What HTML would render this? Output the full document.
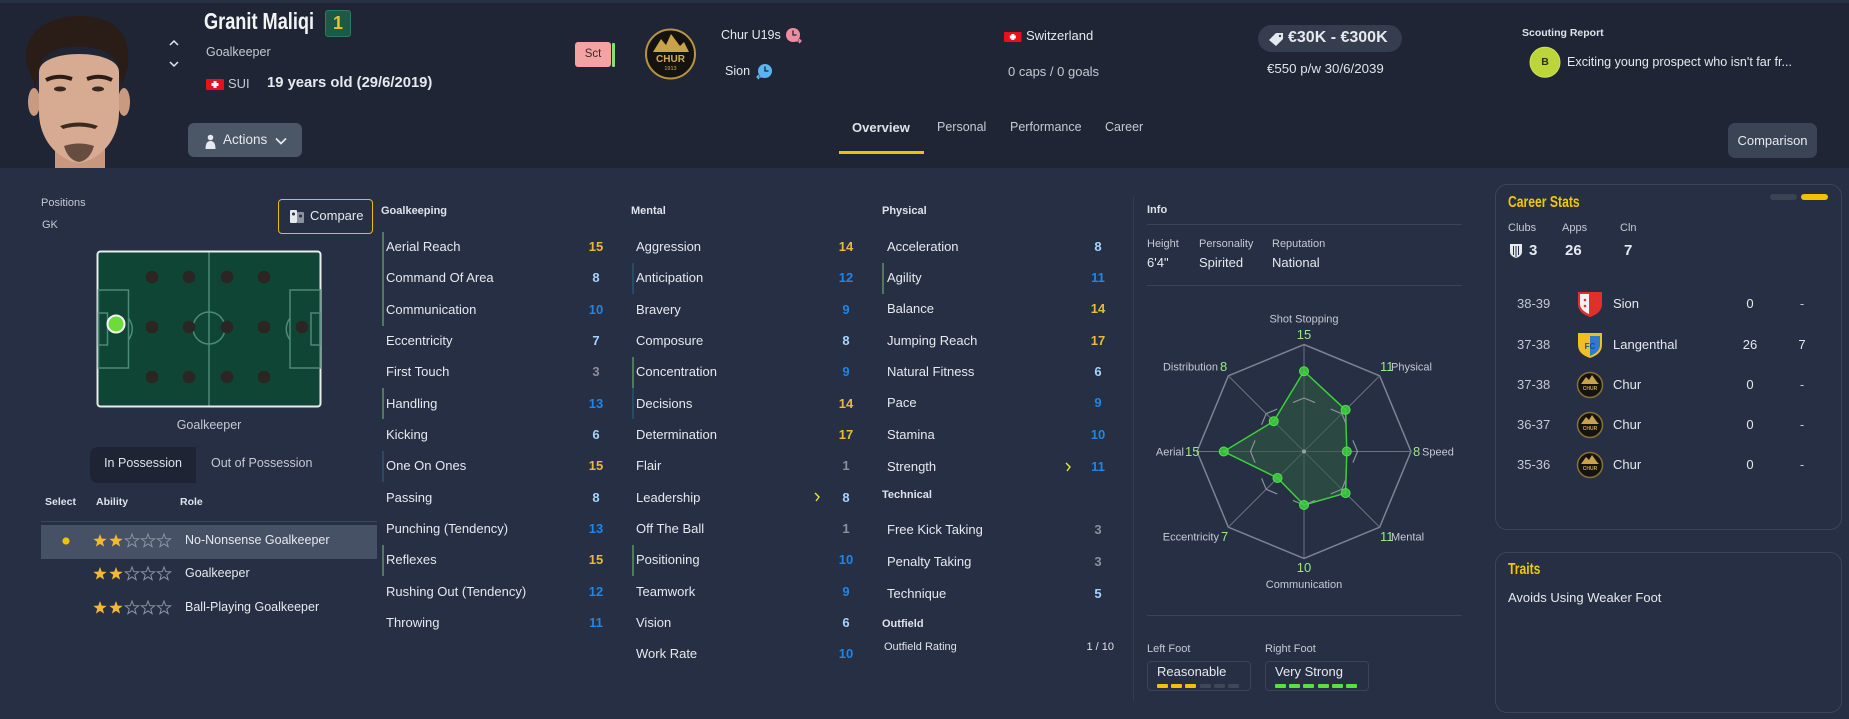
<!DOCTYPE html>
<html><head><meta charset="utf-8">
<style>
*{margin:0;padding:0;box-sizing:border-box}
html,body{width:1849px;height:719px;overflow:hidden;background:#262f43;font-family:"Liberation Sans",sans-serif;color:#e6e9ee}
.a{position:absolute}
.t{position:absolute;white-space:nowrap;line-height:1}
.s{color:#c5cad3}
.f13{font-size:13px}.f12{font-size:12px}.f11{font-size:11px}
.h{font-size:11px;font-weight:bold;color:#dfe3e9}
.v{position:absolute;width:30px;text-align:center;font-size:13px;font-weight:bold;line-height:1}
.g{color:#e9b93a}.b{color:#1d86e8}.l{color:#a5d3ff}.q{color:#8b909a}
.bar{position:absolute;width:2px;height:31px}
.bg{background:#4f7a5c}.bd{background:#284a62}
</style></head><body>

<!-- header -->
<div class="a" style="left:0;top:0;width:1849px;height:3px;background:#283044"></div>
<div class="a" style="left:0;top:3px;width:1849px;height:165px;background:#1f2534"></div>

<!-- boxes -->
<div class="a" style="left:325px;top:10px;width:26px;height:27px;background:#1d5a45;border:1px solid #2f7a5f;border-radius:3px"></div>
<div class="a" style="left:188px;top:123px;width:114px;height:34px;background:#4b5667;border-radius:6px"></div>
<div class="a" style="left:575px;top:42px;width:36px;height:25px;background:#f4a3a3;border-radius:3px"></div>
<div class="a" style="left:612px;top:43px;width:3px;height:24px;background:#86e07a;border-radius:1px"></div>
<div class="a" style="left:839px;top:151px;width:85px;height:3px;background:#f2c200"></div>
<div class="a" style="left:1258px;top:25px;width:144px;height:27px;background:#353d4e;border-radius:14px"></div>
<div class="a" style="left:1728px;top:123px;width:89px;height:35px;background:#3b4455;border-radius:7px"></div>

<div class="a" style="left:278px;top:199px;width:95px;height:35px;border:1px solid #e8c000;border-radius:4px"></div>
<div class="a" style="left:90px;top:447px;width:106px;height:36px;background:#1e2433;border-radius:8px 0 0 8px"></div>
<div class="a" style="left:41px;top:521px;width:336px;height:1px;background:#3a4558"></div>
<div class="a" style="left:41px;top:525px;width:336px;height:34px;background:#475166"></div>

<!-- attribute bars -->
<div class="bar bg" style="left:382px;top:232px;height:94px"></div>
<div class="bar bg" style="left:382px;top:388px"></div>
<div class="bar bd" style="left:382px;top:451px"></div>
<div class="bar bg" style="left:382px;top:545px"></div>
<div class="bar bd" style="left:632px;top:263px"></div>
<div class="bar bg" style="left:632px;top:357px"></div>
<div class="bar bd" style="left:632px;top:388px"></div>
<div class="bar bg" style="left:632px;top:545px"></div>
<div class="bar bg" style="left:882px;top:263px"></div>

<!-- info -->
<div class="a" style="left:1133px;top:197px;width:1px;height:504px;background:#333d50"></div>
<div class="a" style="left:1147px;top:224px;width:315px;height:1px;background:#3a4457"></div>
<div class="a" style="left:1147px;top:285px;width:315px;height:1px;background:#3a4457"></div>
<div class="a" style="left:1147px;top:615px;width:315px;height:1px;background:#3a4457"></div>
<div class="a" style="left:1147px;top:661px;width:104px;height:30px;border:1px solid #3a4457;border-radius:4px"></div>
<div class="a" style="left:1265px;top:661px;width:104px;height:30px;border:1px solid #3a4457;border-radius:4px"></div>

<!-- right panels -->
<div class="a" style="left:1495px;top:184px;width:347px;height:346px;border:1px solid #3b4558;border-radius:12px"></div>
<div class="a" style="left:1495px;top:552px;width:347px;height:161px;border:1px solid #3b4558;border-radius:12px"></div>

<svg class="a" style="left:0;top:0" width="1849" height="719" viewBox="0 0 1849 719">
<defs>
<polygon id="st" points="0,-7 1.7,-2.35 6.66,-2.16 2.76,0.9 4.11,5.66 0,2.9 -4.11,5.66 -2.76,0.9 -6.66,-2.16 -1.7,-2.35"/>
</defs>
<!-- photo -->
<ellipse cx="34" cy="102" rx="6" ry="14" fill="#c99a80"/>
<ellipse cx="124" cy="102" rx="6" ry="14" fill="#c99a80"/>
<rect x="55" y="138" width="50" height="30" fill="#c8987e"/>
<path d="M39,72 C39,48 119,48 119,72 L119,112 C119,140 100,160 79,163 C58,160 39,140 39,112 Z" fill="#d6ab92"/>
<path d="M27,66 C20,36 45,16 78,16 C112,15 132,32 128,66 L122,86 L118,64 C110,50 92,46 79,47 C64,46 46,50 40,64 L36,88 Z" fill="#2a1d17"/>
<path d="M46,80 Q58,74 72,79" stroke="#2a1d17" stroke-width="4" fill="none"/>
<path d="M87,79 Q100,74 112,80" stroke="#2a1d17" stroke-width="4" fill="none"/>
<ellipse cx="60" cy="89" rx="6" ry="2.5" fill="#3a2822"/>
<ellipse cx="98" cy="89" rx="6" ry="2.5" fill="#3a2822"/>
<path d="M60,126 Q79,119 98,126 L95,129 Q79,124 63,129 Z" fill="#3a2a20"/>
<path d="M64,146 Q79,141 94,146 Q90,160 79,162 Q68,160 64,146 Z" fill="#4a362a" opacity="0.8"/>
<!-- chevrons -->
<polyline points="170,45 174,41 178,45" stroke="#e6e9ee" stroke-width="1.5" fill="none"/>
<polyline points="170,62 174,66 178,62" stroke="#e6e9ee" stroke-width="1.5" fill="none"/>
<!-- flag SUI -->
<rect x="206" y="79" width="18" height="11" rx="1" fill="#e8101a"/>
<rect x="213.5" y="81" width="3" height="7" fill="#fff"/><rect x="211.5" y="83" width="7" height="3" fill="#fff"/>
<!-- actions icon -->
<circle cx="210.5" cy="137.5" r="2.8" fill="#e6e9ee"/>
<path d="M205.5,149 Q205.5,141 210.5,141 Q215.5,141 215.5,149 Z" fill="#e6e9ee"/>
<polyline points="276,138.5 281,143.5 286,138.5" stroke="#e6e9ee" stroke-width="1.7" fill="none"/>
<!-- Chur logo -->
<circle cx="670.5" cy="54" r="24.5" fill="#15130f" stroke="#b89440" stroke-width="2"/>
<polygon points="653,52 661,39 666,45 671,34 680,46 684,42 689,52" fill="#c9a24a"/>
<text x="670.5" y="62" font-size="10" font-weight="bold" fill="#d4ac50" text-anchor="middle" font-family="Liberation Sans">CHUR</text>
<text x="670.5" y="70" font-size="5.5" fill="#d4ac50" text-anchor="middle" font-family="Liberation Sans">1913</text>
<!-- clocks -->
<circle cx="793" cy="35" r="7" fill="#f08ca0"/><path d="M793,30.5 V35 H796.5" stroke="#1f2534" stroke-width="1.3" fill="none"/><path d="M794,41 H801 M799,39 L801,41 L799,43" stroke="#f08ca0" stroke-width="1.3" fill="none"/>
<circle cx="765" cy="71" r="7" fill="#5ab4f0"/><path d="M765,66.5 V71 H768.5" stroke="#1f2534" stroke-width="1.3" fill="none"/><path d="M764,77 H757 M759,75 L757,77 L759,79" stroke="#5ab4f0" stroke-width="1.3" fill="none"/>
<!-- flag Switzerland -->
<rect x="1004" y="32" width="17.5" height="10" rx="1" fill="#e8101a"/>
<rect x="1011.3" y="34" width="3" height="6" fill="#fff"/><rect x="1009.8" y="35.5" width="6" height="3" fill="#fff"/>
<!-- tag -->
<polygon points="1269,40 1276,33 1283,33 1283,39 1276,46" fill="#e6e9ee"/>
<circle cx="1280" cy="36" r="1.2" fill="#353d4e"/>
<!-- B circle -->
<circle cx="1545" cy="62.3" r="15" fill="#bcd63a" stroke="#cde45a" stroke-width="1"/>
<!-- compare icon -->
<rect x="290" y="210" width="7" height="13" rx="1" fill="#e6e9ee"/>
<rect x="297" y="212" width="7" height="11" rx="1" fill="#8a92a0"/>
<circle cx="293.5" cy="214" r="1.5" fill="#262f43"/><circle cx="300.5" cy="216" r="1.5" fill="#262f43"/>
<!-- pitch -->
<rect x="97.5" y="251.5" width="223" height="155" rx="3" fill="#0e4535" stroke="#e8ecef" stroke-width="2"/>
<g stroke="#4d8a78" stroke-width="1.5" fill="none">
<line x1="209" y1="252.5" x2="209" y2="405.5"/>
<circle cx="209" cy="328" r="16"/>
<rect x="98.5" y="290" width="30" height="78"/>
<rect x="98.5" y="313" width="9" height="32"/>
<path d="M128.5,318 Q136,329 128.5,340"/>
<rect x="290" y="290" width="30" height="78"/>
<rect x="311" y="313" width="9" height="32"/>
<path d="M290,318 Q282.5,329 290,340"/>
</g>
<g fill="#2b2624">
<circle cx="152" cy="277" r="6.3"/><circle cx="189" cy="277" r="6.3"/><circle cx="227" cy="277" r="6.3"/><circle cx="264" cy="277" r="6.3"/>
<circle cx="152" cy="327" r="6.3"/><circle cx="189" cy="327" r="6.3"/><circle cx="227" cy="327" r="6.3"/><circle cx="264" cy="327" r="6.3"/><circle cx="302" cy="327" r="6.3"/>
<circle cx="152" cy="377" r="6.3"/><circle cx="189" cy="377" r="6.3"/><circle cx="227" cy="377" r="6.3"/><circle cx="264" cy="377" r="6.3"/>
</g>
<circle cx="116" cy="324" r="8.5" fill="#6ddc3a" stroke="#f2f4f6" stroke-width="2"/>
<!-- select dot -->
<circle cx="66" cy="541" r="3.6" fill="#f2c200"/>
<!-- stars -->
<g fill="#f6b731">
<use href="#st" x="100" y="541"/><use href="#st" x="116" y="541"/>
<use href="#st" x="100" y="574"/><use href="#st" x="116" y="574"/>
<use href="#st" x="100" y="608"/><use href="#st" x="116" y="608"/>
</g>
<g fill="none" stroke="#8a92a0" stroke-width="1">
<use href="#st" x="132" y="541"/><use href="#st" x="148" y="541"/><use href="#st" x="164" y="541"/>
<use href="#st" x="132" y="574"/><use href="#st" x="148" y="574"/><use href="#st" x="164" y="574"/>
<use href="#st" x="132" y="608"/><use href="#st" x="148" y="608"/><use href="#st" x="164" y="608"/>
</g>
<!-- arrows -->
<polyline points="815,493 819,497 816,501" stroke="#e4e83a" stroke-width="1.4" fill="none"/>
<polyline points="1066,463 1070,467 1067,471" stroke="#e4e83a" stroke-width="1.4" fill="none"/>
<!-- radar -->
<polygon points="1304,344.5 1379.66,375.84 1411,451.5 1379.66,527.16 1304,558.5 1228.34,527.16 1197,451.5 1228.34,375.84" fill="none" stroke="#7d8390" stroke-width="1.5"/>
<g stroke="#6b7280" stroke-width="1">
<line x1="1304" y1="451.5" x2="1304" y2="344.5"/><line x1="1304" y1="451.5" x2="1379.66" y2="375.84"/>
<line x1="1304" y1="451.5" x2="1411" y2="451.5"/><line x1="1304" y1="451.5" x2="1379.66" y2="527.16"/>
<line x1="1304" y1="451.5" x2="1304" y2="558.5"/><line x1="1304" y1="451.5" x2="1228.34" y2="527.16"/>
<line x1="1304" y1="451.5" x2="1197" y2="451.5"/><line x1="1304" y1="451.5" x2="1228.34" y2="375.84"/>
</g>
<polygon points="1304,371.25 1345.61,409.89 1346.8,451.5 1345.61,493.11 1304,505 1277.52,477.98 1223.75,451.5 1273.74,421.24" fill="#2f5a45" fill-opacity="0.6" stroke="#3ccf3c" stroke-width="1.5"/>
<g stroke="#8a909c" stroke-width="1.2" fill="none">
<polyline points="1292.91,402.59 1304,398 1315.09,402.59"/>
<polyline points="1330.74,409.08 1341.83,413.67 1346.42,424.76"/>
<polyline points="1352.91,440.41 1357.5,451.5 1352.91,462.59"/>
<polyline points="1346.42,478.24 1341.83,489.33 1330.74,493.92"/>
<polyline points="1315.09,500.41 1304,505 1292.91,500.41"/>
<polyline points="1277.26,493.92 1266.17,489.33 1261.58,478.24"/>
<polyline points="1255.09,462.59 1250.5,451.5 1255.09,440.41"/>
<polyline points="1261.58,424.76 1266.17,413.67 1277.26,409.08"/>
</g>
<circle cx="1304" cy="451.5" r="2" fill="#9aa0aa"/>
<g fill="#3fcf3f" stroke="#52e052" stroke-width="1" fill-opacity="0.85">
<circle cx="1304" cy="371.25" r="4.5"/><circle cx="1345.61" cy="409.89" r="4.5"/><circle cx="1346.8" cy="451.5" r="4.5"/><circle cx="1345.61" cy="493.11" r="4.5"/>
<circle cx="1304" cy="505" r="4.5"/><circle cx="1277.52" cy="477.98" r="4.5"/><circle cx="1223.75" cy="451.5" r="4.5"/><circle cx="1273.74" cy="421.24" r="4.5"/>
</g>
<g font-family="Liberation Sans" font-size="11" fill="#c5cad3">
<text x="1304" y="322.5" text-anchor="middle">Shot Stopping</text>
<text x="1218" y="370.5" text-anchor="end">Distribution</text>
<text x="1391" y="370.5">Physical</text>
<text x="1184" y="455.5" text-anchor="end">Aerial</text>
<text x="1422" y="455.5">Speed</text>
<text x="1219" y="540.5" text-anchor="end">Eccentricity</text>
<text x="1391" y="540.5">Mental</text>
<text x="1304" y="588" text-anchor="middle">Communication</text>
</g>
<g font-family="Liberation Sans" font-size="13" fill="#9be88a">
<text x="1304" y="339" text-anchor="middle">15</text>
<text x="1220" y="371">8</text>
<text x="1380" y="371">11</text>
<text x="1185" y="456">15</text>
<text x="1413" y="456">8</text>
<text x="1221" y="541">7</text>
<text x="1380" y="541">11</text>
<text x="1304" y="572" text-anchor="middle">10</text>
</g>
<!-- foot bars -->
<g>
<rect x="1157" y="684" width="11" height="4" rx="1" fill="#f2c200"/><rect x="1171" y="684" width="11" height="4" rx="1" fill="#f2c200"/><rect x="1185" y="684" width="11" height="4" rx="1" fill="#f2c200"/>
<rect x="1200" y="684" width="11" height="4" rx="1" fill="#3f4859"/><rect x="1214" y="684" width="11" height="4" rx="1" fill="#3f4859"/><rect x="1228" y="684" width="11" height="4" rx="1" fill="#3f4859"/>
<rect x="1275" y="684" width="11" height="4" rx="1" fill="#5ae03c"/><rect x="1289" y="684" width="11" height="4" rx="1" fill="#5ae03c"/><rect x="1303" y="684" width="11" height="4" rx="1" fill="#5ae03c"/>
<rect x="1318" y="684" width="11" height="4" rx="1" fill="#5ae03c"/><rect x="1332" y="684" width="11" height="4" rx="1" fill="#5ae03c"/><rect x="1346" y="684" width="11" height="4" rx="1" fill="#5ae03c"/>
</g>
<!-- career -->
<rect x="1770" y="194" width="27" height="6" rx="3" fill="#3a4354"/>
<rect x="1801" y="194" width="27" height="6" rx="3" fill="#f2c200"/>
<path d="M1510,244 H1522 V252 Q1522,256 1516,258 Q1510,256 1510,252 Z" fill="#e6e9ee"/>
<path d="M1513.5,246 V255 M1516,246 V257 M1518.5,246 V255" stroke="#262f43" stroke-width="1"/>
<!-- Sion -->
<path d="M1578,292 H1602 V304 Q1602,313 1590,317 Q1578,313 1578,304 Z" fill="#e0302a"/>
<path d="M1580,294 H1589 V314 Q1580,310 1580,304 Z" fill="#f2f2f2"/>
<circle cx="1585" cy="300" r="1.3" fill="#e0302a"/><circle cx="1585" cy="306" r="1.3" fill="#e0302a"/>
<!-- Langenthal -->
<path d="M1578,333 H1602 V345 Q1602,354 1590,358 Q1578,354 1578,345 Z" fill="#f0c020"/>
<path d="M1590,336 H1600 V345 Q1600,352 1590,356 Z" fill="#2f7ad0"/>
<text x="1590" y="349" font-size="8" font-weight="bold" fill="#1a4aa0" text-anchor="middle" font-family="Liberation Sans">FC</text>
<!-- small Chur logos -->
<g>
<circle cx="1590" cy="385" r="12.5" fill="#15130f" stroke="#8a7030" stroke-width="1.5"/>
<polygon points="1581,384 1586,377 1589,380 1592,375 1597,382 1599,384" fill="#c9a24a"/>
<text x="1590" y="390" font-size="5" font-weight="bold" fill="#c9a24a" text-anchor="middle" font-family="Liberation Sans">CHUR</text>
<circle cx="1590" cy="425" r="12.5" fill="#15130f" stroke="#8a7030" stroke-width="1.5"/>
<polygon points="1581,424 1586,417 1589,420 1592,415 1597,422 1599,424" fill="#c9a24a"/>
<text x="1590" y="430" font-size="5" font-weight="bold" fill="#c9a24a" text-anchor="middle" font-family="Liberation Sans">CHUR</text>
<circle cx="1590" cy="465" r="12.5" fill="#15130f" stroke="#8a7030" stroke-width="1.5"/>
<polygon points="1581,464 1586,457 1589,460 1592,455 1597,462 1599,464" fill="#c9a24a"/>
<text x="1590" y="470" font-size="5" font-weight="bold" fill="#c9a24a" text-anchor="middle" font-family="Liberation Sans">CHUR</text>
</g>
</svg>

<!-- header text -->
<div class="t" style="left:204px;top:10px;font-size:23px;font-weight:bold;transform:scaleX(0.79);transform-origin:0 0;color:#f2f4f6">Granit Maliqi</div>
<div class="t" style="left:325px;top:14px;width:26px;text-align:center;font-size:18px;font-weight:bold;color:#e8c030">1</div>
<div class="t s" style="left:206px;top:46px;font-size:12.5px">Goalkeeper</div>
<div class="t s" style="left:228px;top:77px;font-size:13px">SUI</div>
<div class="t" style="left:267px;top:76px;font-size:14.8px;font-weight:bold">19 years old (29/6/2019)</div>
<div class="t" style="left:223px;top:133px;font-size:13.5px">Actions</div>
<div class="t" style="left:575px;top:48.5px;width:36px;text-align:center;font-size:11.5px;color:#3a2a2a">Sct</div>
<div class="t" style="left:721px;top:29px;font-size:12.5px">Chur U19s</div>
<div class="t" style="left:725px;top:65px;font-size:12.5px">Sion</div>
<div class="t" style="left:1026px;top:29px;font-size:13px">Switzerland</div>
<div class="t s" style="left:1008px;top:65px;font-size:13px">0 caps / 0 goals</div>
<div class="t" style="left:852px;top:121px;font-size:13px;font-weight:bold;color:#dfe3e9">Overview</div>
<div class="t s" style="left:937px;top:121px;font-size:12.5px">Personal</div>
<div class="t s" style="left:1010px;top:121px;font-size:12.5px">Performance</div>
<div class="t s" style="left:1105px;top:121px;font-size:12.5px">Career</div>
<div class="t" style="left:1288px;top:29.5px;font-size:16px;font-weight:bold">€30K - €300K</div>
<div class="t" style="left:1267px;top:62px;font-size:13.3px;color:#dfe3e9">€550 p/w 30/6/2039</div>
<div class="t" style="left:1522px;top:28px;font-size:10.5px;font-weight:bold;color:#dfe3e9">Scouting Report</div>
<div class="t" style="left:1530px;top:57px;width:30px;text-align:center;font-size:10.5px;font-weight:bold;color:#2a3010">B</div>
<div class="t" style="left:1567px;top:55.5px;font-size:12.6px">Exciting young prospect who isn't far fr...</div>
<div class="t" style="left:1728px;top:133.5px;width:89px;text-align:center;font-size:13px">Comparison</div>

<!-- left panel -->
<div class="t s f11" style="left:41px;top:198px">Positions</div>
<div class="t s f11" style="left:42px;top:220px">GK</div>
<div class="t" style="left:310px;top:209px;font-size:13px">Compare</div>
<div class="t s" style="left:160px;top:419px;width:98px;text-align:center;font-size:12.5px">Goalkeeper</div>
<div class="t" style="left:90px;top:457px;width:106px;text-align:center;font-size:12.5px;color:#dfe3e9">In Possession</div>
<div class="t s" style="left:211px;top:457px;font-size:12.5px">Out of Possession</div>
<div class="t" style="left:45px;top:497px;font-size:10.5px;font-weight:bold;color:#dfe3e9">Select</div>
<div class="t" style="left:96px;top:497px;font-size:10.5px;font-weight:bold;color:#dfe3e9">Ability</div>
<div class="t" style="left:180px;top:497px;font-size:10.5px;font-weight:bold;color:#dfe3e9">Role</div>
<div class="t" style="left:185px;top:534px;font-size:12.5px">No-Nonsense Goalkeeper</div>
<div class="t" style="left:185px;top:567px;font-size:12.5px">Goalkeeper</div>
<div class="t" style="left:185px;top:601px;font-size:12.5px">Ball-Playing Goalkeeper</div>

<!-- Goalkeeping -->
<div class="t h" style="left:381px;top:206px">Goalkeeping</div>
<div class="t f13" style="left:386px;top:240px">Aerial Reach</div><div class="v g" style="left:581px;top:240px">15</div>
<div class="t f13" style="left:386px;top:271px">Command Of Area</div><div class="v l" style="left:581px;top:271px">8</div>
<div class="t f13" style="left:386px;top:303px">Communication</div><div class="v b" style="left:581px;top:303px">10</div>
<div class="t f13" style="left:386px;top:334px">Eccentricity</div><div class="v l" style="left:581px;top:334px">7</div>
<div class="t f13" style="left:386px;top:365px">First Touch</div><div class="v q" style="left:581px;top:365px">3</div>
<div class="t f13" style="left:386px;top:397px">Handling</div><div class="v b" style="left:581px;top:397px">13</div>
<div class="t f13" style="left:386px;top:428px">Kicking</div><div class="v l" style="left:581px;top:428px">6</div>
<div class="t f13" style="left:386px;top:459px">One On Ones</div><div class="v g" style="left:581px;top:459px">15</div>
<div class="t f13" style="left:386px;top:491px">Passing</div><div class="v l" style="left:581px;top:491px">8</div>
<div class="t f13" style="left:386px;top:522px">Punching (Tendency)</div><div class="v b" style="left:581px;top:522px">13</div>
<div class="t f13" style="left:386px;top:553px">Reflexes</div><div class="v g" style="left:581px;top:553px">15</div>
<div class="t f13" style="left:386px;top:585px">Rushing Out (Tendency)</div><div class="v b" style="left:581px;top:585px">12</div>
<div class="t f13" style="left:386px;top:616px">Throwing</div><div class="v b" style="left:581px;top:616px">11</div>

<!-- Mental -->
<div class="t h" style="left:631px;top:206px">Mental</div>
<div class="t f13" style="left:636px;top:240px">Aggression</div><div class="v g" style="left:831px;top:240px">14</div>
<div class="t f13" style="left:636px;top:271px">Anticipation</div><div class="v b" style="left:831px;top:271px">12</div>
<div class="t f13" style="left:636px;top:303px">Bravery</div><div class="v b" style="left:831px;top:303px">9</div>
<div class="t f13" style="left:636px;top:334px">Composure</div><div class="v l" style="left:831px;top:334px">8</div>
<div class="t f13" style="left:636px;top:365px">Concentration</div><div class="v b" style="left:831px;top:365px">9</div>
<div class="t f13" style="left:636px;top:397px">Decisions</div><div class="v g" style="left:831px;top:397px">14</div>
<div class="t f13" style="left:636px;top:428px">Determination</div><div class="v g" style="left:831px;top:428px">17</div>
<div class="t f13" style="left:636px;top:459px">Flair</div><div class="v q" style="left:831px;top:459px">1</div>
<div class="t f13" style="left:636px;top:491px">Leadership</div><div class="v l" style="left:831px;top:491px">8</div>
<div class="t f13" style="left:636px;top:522px">Off The Ball</div><div class="v q" style="left:831px;top:522px">1</div>
<div class="t f13" style="left:636px;top:553px">Positioning</div><div class="v b" style="left:831px;top:553px">10</div>
<div class="t f13" style="left:636px;top:585px">Teamwork</div><div class="v b" style="left:831px;top:585px">9</div>
<div class="t f13" style="left:636px;top:616px">Vision</div><div class="v l" style="left:831px;top:616px">6</div>
<div class="t f13" style="left:636px;top:647px">Work Rate</div><div class="v b" style="left:831px;top:647px">10</div>

<!-- Physical -->
<div class="t h" style="left:882px;top:206px">Physical</div>
<div class="t f13" style="left:887px;top:240px">Acceleration</div><div class="v l" style="left:1083px;top:240px">8</div>
<div class="t f13" style="left:887px;top:271px">Agility</div><div class="v b" style="left:1083px;top:271px">11</div>
<div class="t f13" style="left:887px;top:302px">Balance</div><div class="v g" style="left:1083px;top:302px">14</div>
<div class="t f13" style="left:887px;top:334px">Jumping Reach</div><div class="v g" style="left:1083px;top:334px">17</div>
<div class="t f13" style="left:887px;top:365px">Natural Fitness</div><div class="v l" style="left:1083px;top:365px">6</div>
<div class="t f13" style="left:887px;top:396px">Pace</div><div class="v b" style="left:1083px;top:396px">9</div>
<div class="t f13" style="left:887px;top:428px">Stamina</div><div class="v b" style="left:1083px;top:428px">10</div>
<div class="t f13" style="left:887px;top:460px">Strength</div><div class="v b" style="left:1083px;top:460px">11</div>
<div class="t h" style="left:882px;top:490px">Technical</div>
<div class="t f13" style="left:887px;top:523px">Free Kick Taking</div><div class="v q" style="left:1083px;top:523px">3</div>
<div class="t f13" style="left:887px;top:555px">Penalty Taking</div><div class="v q" style="left:1083px;top:555px">3</div>
<div class="t f13" style="left:887px;top:587px">Technique</div><div class="v l" style="left:1083px;top:587px">5</div>
<div class="t h" style="left:882px;top:619px">Outfield</div>
<div class="t f11" style="left:884px;top:642px;color:#dfe3e9">Outfield Rating</div>
<div class="t f11" style="left:1074px;top:642px;width:40px;text-align:right;color:#dfe3e9">1 / 10</div>

<!-- Info -->
<div class="t h" style="left:1147px;top:205px">Info</div>
<div class="t s f11" style="left:1147px;top:239px">Height</div>
<div class="t f13" style="left:1147px;top:256px">6'4"</div>
<div class="t s f11" style="left:1199px;top:239px">Personality</div>
<div class="t f13" style="left:1199px;top:256px">Spirited</div>
<div class="t s f11" style="left:1272px;top:239px">Reputation</div>
<div class="t f13" style="left:1272px;top:256px">National</div>
<div class="t s f11" style="left:1147px;top:644px">Left Foot</div>
<div class="t s f11" style="left:1265px;top:644px">Right Foot</div>
<div class="t f13" style="left:1157px;top:665px">Reasonable</div>
<div class="t f13" style="left:1275px;top:665px">Very Strong</div>

<!-- Career -->
<div class="t" style="left:1508px;top:195px;font-size:16px;font-weight:bold;color:#f2c800;transform:scaleX(0.76);transform-origin:0 0">Career Stats</div>
<div class="t s f11" style="left:1508px;top:223px">Clubs</div>
<div class="t s f11" style="left:1562px;top:223px">Apps</div>
<div class="t s f11" style="left:1620px;top:223px">Cln</div>
<div class="t" style="left:1529px;top:243px;font-size:15px;font-weight:bold">3</div>
<div class="t" style="left:1565px;top:243px;font-size:15px;font-weight:bold">26</div>
<div class="t" style="left:1624px;top:243px;font-size:15px;font-weight:bold">7</div>

<div class="t s f13" style="left:1517px;top:297px">38-39</div><div class="t f13" style="left:1613px;top:297px">Sion</div><div class="t f13" style="left:1735px;top:297px;width:30px;text-align:center">0</div><div class="t f13 s" style="left:1787px;top:297px;width:30px;text-align:center">-</div>
<div class="t s f13" style="left:1517px;top:338px">37-38</div><div class="t f13" style="left:1613px;top:338px">Langenthal</div><div class="t f13" style="left:1735px;top:338px;width:30px;text-align:center">26</div><div class="t f13" style="left:1787px;top:338px;width:30px;text-align:center">7</div>
<div class="t s f13" style="left:1517px;top:378px">37-38</div><div class="t f13" style="left:1613px;top:378px">Chur</div><div class="t f13" style="left:1735px;top:378px;width:30px;text-align:center">0</div><div class="t f13 s" style="left:1787px;top:378px;width:30px;text-align:center">-</div>
<div class="t s f13" style="left:1517px;top:418px">36-37</div><div class="t f13" style="left:1613px;top:418px">Chur</div><div class="t f13" style="left:1735px;top:418px;width:30px;text-align:center">0</div><div class="t f13 s" style="left:1787px;top:418px;width:30px;text-align:center">-</div>
<div class="t s f13" style="left:1517px;top:458px">35-36</div><div class="t f13" style="left:1613px;top:458px">Chur</div><div class="t f13" style="left:1735px;top:458px;width:30px;text-align:center">0</div><div class="t f13 s" style="left:1787px;top:458px;width:30px;text-align:center">-</div>

<div class="t" style="left:1508px;top:562px;font-size:16px;font-weight:bold;color:#f2c800;transform:scaleX(0.76);transform-origin:0 0">Traits</div>
<div class="t f13" style="left:1508px;top:591px">Avoids Using Weaker Foot</div>

</body></html>
